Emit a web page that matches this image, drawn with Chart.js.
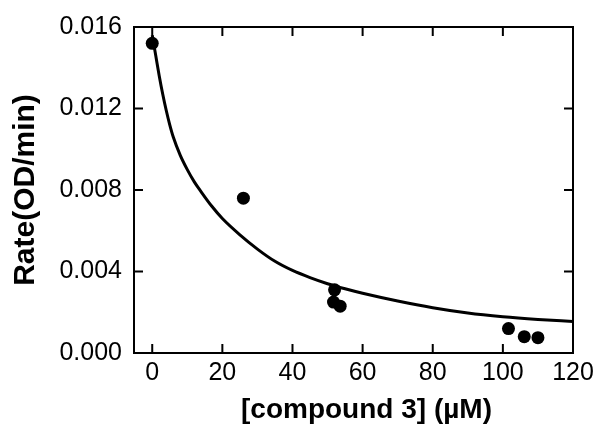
<!DOCTYPE html>
<html>
<head>
<meta charset="utf-8">
<script src="https://cdn.jsdelivr.net/npm/chart.js@4/dist/chart.umd.min.js"></script>
<style>
  html, body { margin: 0; padding: 0; background: #fff; }
  #wrap { width: 600px; height: 432px; }
</style>
</head>
<body>
<div id="wrap"><canvas id="chart" width="600" height="432"></canvas></div>
<script>
/* ── data ── */
const conc   = [0, 26, 51.7, 52, 53.6, 101.6, 106.1, 110];
const rates  = [0.0152, 0.0076, 0.0025, 0.0031, 0.0023, 0.0012, 0.0008, 0.00075];

// fitted curve, sampled by eye along the drawn line
const fitX   = [0, 1, 2, 3, 4, 5, 6, 8, 10, 12, 14, 17, 20, 25, 30, 35, 40, 45, 50, 55, 60, 70, 80, 90, 100, 110, 120];
const fitY   = [0.0156, 0.0146, 0.0136, 0.0127, 0.0119, 0.0112, 0.0106, 0.0097, 0.0090, 0.0084, 0.0079,
                0.0072, 0.0066, 0.0058, 0.0051, 0.0045, 0.00405, 0.0037, 0.0034, 0.00315, 0.00293,
                0.00255, 0.00222, 0.00196, 0.00178, 0.00165, 0.00155];

const xTicks = [0, 20, 40, 60, 80, 100, 120];
const yTicks = [0, 0.004, 0.008, 0.012, 0.016];

const xTitle = '[compound 3] (\u00b5M)';
const yTitle = 'Rate(OD/min)';

const FONT = "'Liberation Sans', Arial, Helvetica, sans-serif";

/* ── box, inward ticks on all four sides, x title (sits a bit right of centre) ── */
const framePlugin = {
  id: 'frame',
  afterDraw(chart) {
    const { ctx, chartArea: a, scales: { x, y } } = chart;
    const len = 9;
    ctx.save();
    ctx.strokeStyle = '#000';
    ctx.lineWidth = 2;
    ctx.strokeRect(a.left, a.top, a.right - a.left, a.bottom - a.top);
    ctx.beginPath();
    xTicks.forEach(v => {
      const px = x.getPixelForValue(v);
      ctx.moveTo(px, a.bottom); ctx.lineTo(px, a.bottom - len);
      ctx.moveTo(px, a.top);    ctx.lineTo(px, a.top + len);
    });
    yTicks.forEach(v => {
      const py = y.getPixelForValue(v);
      ctx.moveTo(a.left, py);  ctx.lineTo(a.left + len, py);
      ctx.moveTo(a.right, py); ctx.lineTo(a.right - len, py);
    });
    ctx.stroke();

    ctx.fillStyle = '#000';
    ctx.font = `bold 28px ${FONT}`;
    ctx.textAlign = 'center';
    ctx.textBaseline = 'middle';
    ctx.fillText(xTitle, (a.left + a.right) / 2 + 13, x.bottom - 22);
    ctx.restore();
  }
};

new Chart(document.getElementById('chart'), {
  type: 'scatter',
  data: {
    datasets: [
      { type: 'line', data: fitX.map((v, i) => ({ x: v, y: fitY[i] })),
        borderColor: '#000', borderWidth: 3, pointRadius: 0,
        cubicInterpolationMode: 'monotone', fill: false },
      { data: conc.map((v, i) => ({ x: v, y: rates[i] })),
        backgroundColor: '#000', borderColor: '#000', pointRadius: 6.5, pointBorderWidth: 0 }
    ]
  },
  options: {
    responsive: false,
    animation: false,
    layout: { padding: { top: 23, right: 27, left: 0, bottom: 0 } },
    plugins: { legend: { display: false }, tooltip: { enabled: false } },
    scales: {
      x: {
        type: 'linear', min: -5.2, max: 120,
        afterBuildTicks: s => { s.ticks = xTicks.map(v => ({ value: v })); },
        afterFit: s => { s.height = 79; },
        grid: { display: false, drawTicks: false },
        border: { display: false },
        ticks: { color: '#000', padding: 5, maxRotation: 0, font: { family: FONT, size: 25 } },
        title: { display: false, text: xTitle }
      },
      y: {
        min: 0, max: 0.016,
        afterBuildTicks: s => { s.ticks = yTicks.map(v => ({ value: v })); },
        afterFit: s => { s.width = 134; },
        grid: { display: false, drawTicks: false },
        border: { display: false },
        ticks: { color: '#000', padding: 12, font: { family: FONT, size: 25 },
                 callback: v => v.toFixed(3) },
        title: { display: true, text: yTitle, color: '#000',
                 padding: { top: 8, bottom: 0 }, font: { family: FONT, size: 30, weight: 'bold' } }
      }
    }
  },
  plugins: [framePlugin]
});
</script>
</body>
</html>
